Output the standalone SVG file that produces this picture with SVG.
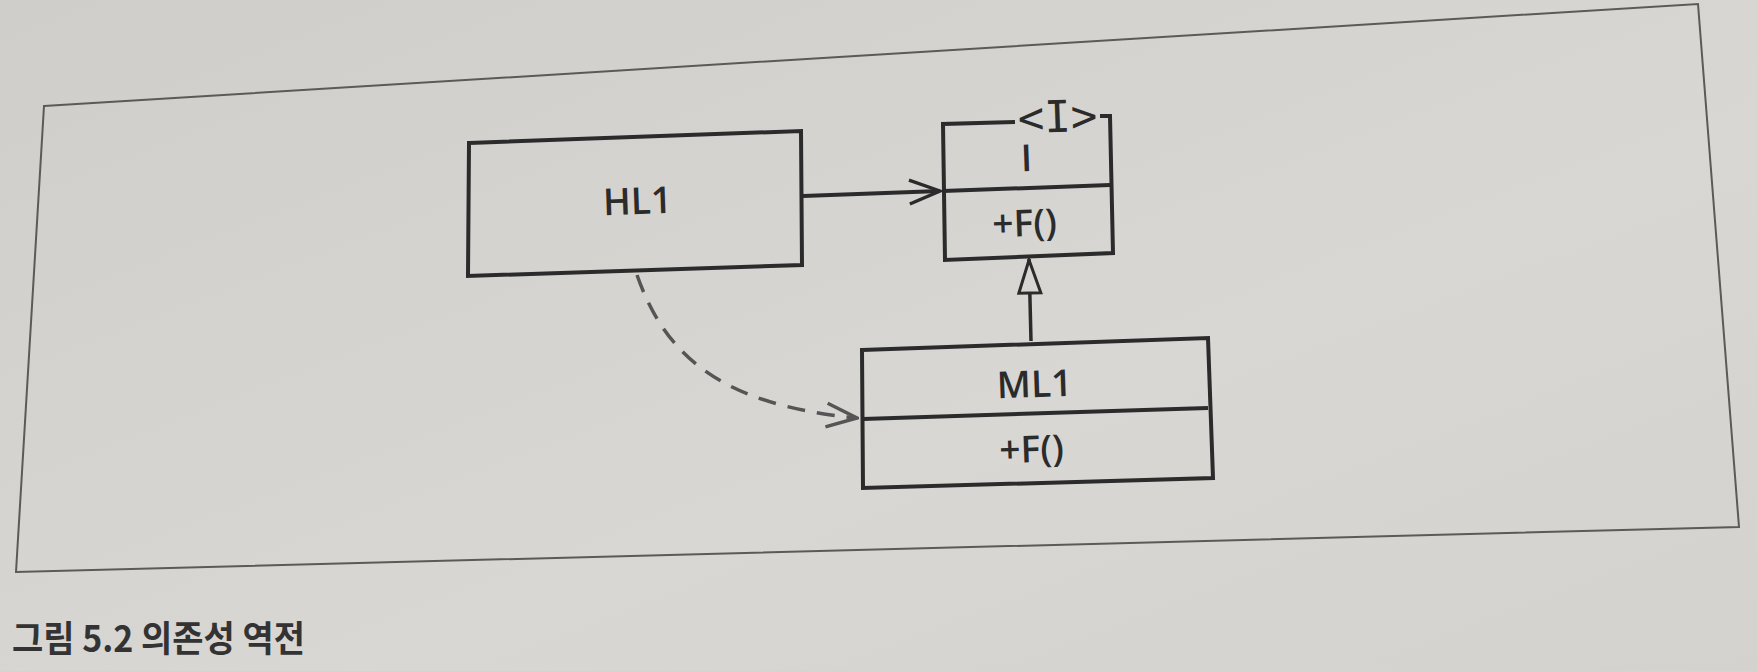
<svg xmlns="http://www.w3.org/2000/svg" width="1757" height="671" viewBox="0 0 1757 671">
  <defs>
    <linearGradient id="paper" x1="0" y1="0" x2="1" y2="1">
      <stop offset="0" stop-color="#cfcecb"/>
      <stop offset="0.6" stop-color="#d8d7d4"/>
      <stop offset="1" stop-color="#d3d2cf"/>
    </linearGradient>
    <marker id="open" viewBox="0 0 20 20" refX="19" refY="10" markerWidth="34" markerHeight="34" markerUnits="userSpaceOnUse" orient="auto">
      <path d="M1,3 L19,10 L1,17" fill="none" stroke="#2b2b2b" stroke-width="2"/>
    </marker>
    <marker id="openDash" viewBox="0 0 20 20" refX="19" refY="10" markerWidth="34" markerHeight="34" markerUnits="userSpaceOnUse" orient="auto">
      <path d="M1,3 L19,10 L1,17" fill="none" stroke="#555" stroke-width="2"/>
    </marker>
    <marker id="hollow" viewBox="0 0 38 26" refX="37" refY="13" markerWidth="38" markerHeight="26" markerUnits="userSpaceOnUse" orient="auto">
      <path d="M36,13 L3,2 L3,24 Z" fill="#d7d6d3" stroke="#2b2b2b" stroke-width="3"/>
    </marker>
  </defs>
  <style>
    .box { fill: none; stroke: #2b2b2b; stroke-width: 4; stroke-linejoin: miter; }
    .lbl { font-family: "Open Sans", "Noto Sans", sans-serif; font-size: 37px; font-weight: 600; fill: #2b2b2b; text-anchor: middle; }
    .stereo { font-family: "DejaVu Sans Mono", "Liberation Mono", monospace; font-size: 44px; fill: #2b2b2b; text-anchor: middle; }
    .frame { fill: none; stroke: #5a5a58; stroke-width: 2; }
    .cap { font-family: "Noto Sans CJK KR", "Noto Sans", sans-serif; font-size: 36px; font-weight: 700; fill: #333; }
  </style>
  <rect x="0" y="0" width="1757" height="671" fill="url(#paper)"/>
  <polygon class="frame" points="44,106 1698,4 1739,527 16,572" fill="#d9d8d5"/>

  <g id="HL1">
    <polygon class="box" points="469,143 801,131 802,265 468,276"/>
    <text class="lbl" x="638" y="214" transform="rotate(-2 638 214)">HL1</text>
  </g>

  <g id="I">
    <path class="box" d="M1015,122 L943,124 L945,260 L1113,253 L1110,116 L1100,116"/>
    <line class="box" x1="943" y1="191" x2="1110" y2="185"/>
    <text class="stereo" x="1058" y="132" transform="rotate(-2 1058 132)">&lt;I&gt;</text>
    <text class="lbl" x="1027" y="171" transform="rotate(-2 1027 171)">I</text>
    <text class="lbl" x="1025" y="236" transform="rotate(-2 1025 236)">+F()</text>
  </g>

  <g id="ML1">
    <polygon class="box" points="862,350 1208,338 1213,478 863,488"/>
    <line class="box" x1="863" y1="419" x2="1208" y2="408"/>
    <text class="lbl" x="1035" y="397" transform="rotate(-2 1035 397)">ML1</text>
    <text class="lbl" x="1032" y="462" transform="rotate(-2 1032 462)">+F()</text>
  </g>

  <g id="connectors">
    <line x1="803" y1="196" x2="940" y2="191" stroke="#2b2b2b" stroke-width="4" marker-end="url(#open)"/>
    <line x1="1031" y1="341" x2="1029" y2="259" stroke="#2b2b2b" stroke-width="3.5" marker-end="url(#hollow)"/>
    <path d="M637,275 C665,355 720,405 857,418" fill="none" stroke="#555" stroke-width="3.5" stroke-dasharray="18 12" marker-end="url(#openDash)"/>
  </g>

  <text class="cap" x="12" y="652" textLength="293" lengthAdjust="spacingAndGlyphs">그림 5.2 의존성 역전</text>
</svg>
